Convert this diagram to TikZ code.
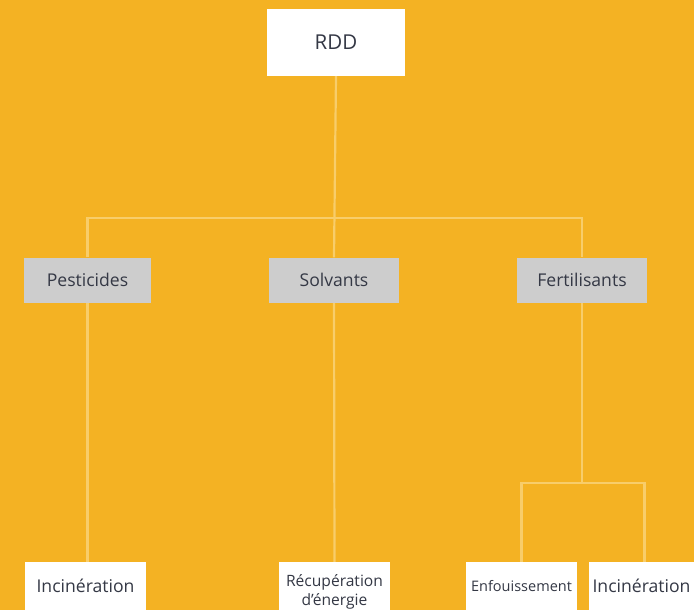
\documentclass[tikz,border=0pt]{standalone}
\usepackage{fontspec}
\setmainfont{Open Sans}
\definecolor{bg}{HTML}{F4B223}
\definecolor{ln}{HTML}{F8CD6A}
\definecolor{tx}{HTML}{343845}
\definecolor{gr}{HTML}{CDCDCD}
\pgfdeclarelayer{back}
\pgfdeclarelayer{lines}
\pgfsetlayers{back,lines,main}
\begin{document}
\begin{tikzpicture}[x=1pt,y=-1pt,
  box/.style={fill=white,inner sep=0pt,text=tx,align=center},
  gbox/.style={fill=gr,inner sep=0pt,text=tx,align=center,minimum height=45pt},
  conn/.style={draw=ln,line width=2.2pt},
  big/.style={font=\fontsize{17.6}{21}\selectfont}]
\begin{pgfonlayer}{back}
\fill[bg] (0,0) rectangle (694,610);
\end{pgfonlayer}
\useasboundingbox (0,0) rectangle (694,610);
\node[box,minimum width=138pt,minimum height=67pt,font=\fontsize{20.5}{24}\selectfont] (rdd) at (336,42.5) {RDD};
\node[gbox,big,minimum width=127pt] (pest) at (87.5,280) {Pesticides};
\node[gbox,big,minimum width=130pt] (solv) at (334,280) {Solvants};
\node[gbox,big,minimum width=130pt] (fert) at (582,280) {Fertilisants};
\node[box,big,minimum width=121pt,minimum height=48pt,anchor=north] (inc1) at (85.5,562) {Incinération};
\node[box,minimum width=111pt,minimum height=59pt,font=\fontsize{15.6}{18}\selectfont,anchor=north] (recup) at (334.5,562) {\shortstack{Récupération\\d’énergie}};
\node[box,minimum width=111pt,minimum height=48pt,font=\fontsize{14.5}{17}\selectfont,anchor=north] (enf) at (521.5,562) {Enfouissement};
\node[box,big,minimum width=105pt,minimum height=48pt,anchor=north] (inc2) at (641.5,562) {Incinération};
\coordinate (hy) at (0,218);
\coordinate (fy) at (0,483);
\begin{pgfonlayer}{lines}
\path[conn] (rdd.south) -- (solv.north);
\path[conn] (pest.north) |- (hy -| solv.north) -| (fert.north);
\path[conn] (solv.south) -- (recup.north);
\path[conn] (pest.south) -- (pest.south |- inc1.north);
\path[conn] (fert.south) -- (fert.south |- fy);
\path[conn] (enf.north) |- (fy -| fert.south) -| ([xshift=3pt]inc2.north);
\end{pgfonlayer}
\end{tikzpicture}
\end{document}
